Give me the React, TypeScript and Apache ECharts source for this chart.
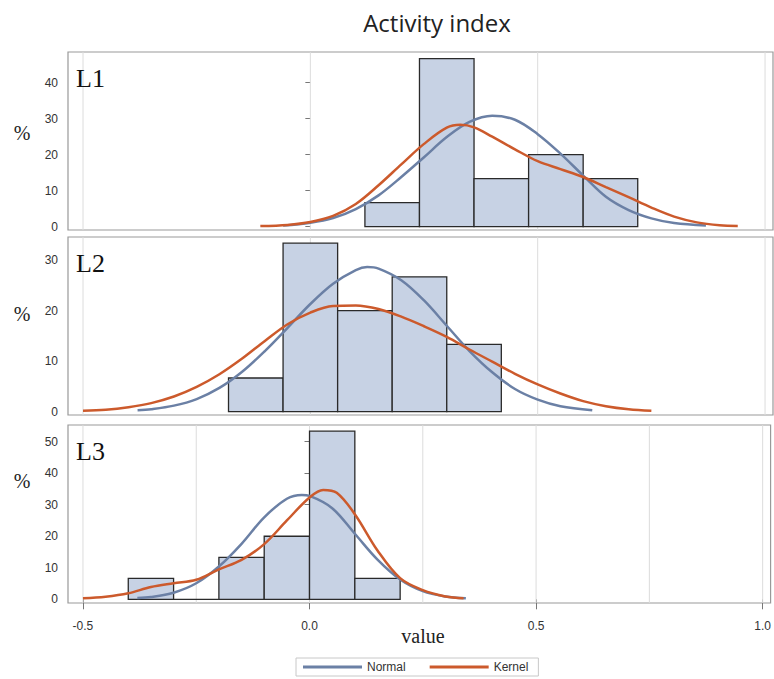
import { useEffect, useRef } from "react";
import * as echarts from "echarts";

// Histogram bins: edges on the value axis and the percentage in each bin
const l1Edges = [0.12, 0.24, 0.36, 0.48, 0.6, 0.72];
const l1Percent = [6.67, 46.67, 13.33, 20, 13.33];
const l2Edges = [-0.18, -0.06, 0.06, 0.18, 0.3, 0.42];
const l2Percent = [6.67, 33.33, 20, 26.67, 13.33];
const l3Edges = [-0.4, -0.3, -0.2, -0.1, 0, 0.1, 0.2];
const l3Percent = [6.67, 0, 13.33, 20, 53.33, 6.67];

// Fitted density curves, [value, percent]
const l1Normal = [
  [-0.06, 0.3], [0, 1.1], [0.05, 2.4], [0.1, 4.9], [0.15, 8.7], [0.2, 13.8],
  [0.25, 19.3], [0.3, 24.9], [0.35, 29.1], [0.4, 30.8], [0.45, 29.7], [0.5, 25.7],
  [0.55, 20.3], [0.6, 14.2], [0.65, 8.3], [0.7, 4.6], [0.75, 2.3], [0.8, 1.0], [0.87, 0.3],
];
const l1Kernel = [
  [-0.11, 0.2], [-0.05, 0.5], [0, 1.3], [0.05, 3.0], [0.1, 6.3], [0.15, 11.5],
  [0.2, 17.3], [0.25, 23.0], [0.3, 27.5], [0.33, 28.3], [0.36, 27.6], [0.4, 25.0],
  [0.45, 21.5], [0.5, 18.2], [0.55, 16.0], [0.6, 13.8], [0.65, 11.0], [0.7, 8.2],
  [0.75, 5.3], [0.8, 2.8], [0.85, 1.2], [0.9, 0.4], [0.94, 0.2],
];
const l2Normal = [
  [-0.38, 0.3], [-0.35, 0.5], [-0.3, 1.2], [-0.25, 2.5], [-0.2, 4.7], [-0.15, 7.9],
  [-0.1, 12.0], [-0.05, 16.6], [0, 21.3], [0.05, 25.3], [0.1, 28.0], [0.125, 28.6],
  [0.15, 28.3], [0.2, 26.0], [0.25, 22.0], [0.3, 17.0], [0.35, 12.0], [0.4, 7.8],
  [0.45, 4.5], [0.5, 2.4], [0.55, 1.1], [0.62, 0.3],
];
const l2Kernel = [
  [-0.5, 0.2], [-0.45, 0.4], [-0.4, 0.9], [-0.35, 1.7], [-0.3, 3.0], [-0.25, 4.9],
  [-0.2, 7.4], [-0.15, 10.5], [-0.1, 14.0], [-0.05, 17.3], [0, 19.6], [0.05, 20.9],
  [0.1, 21.0], [0.15, 20.3], [0.2, 18.8], [0.25, 16.9], [0.3, 14.8], [0.35, 12.3],
  [0.4, 9.9], [0.45, 7.5], [0.5, 5.4], [0.55, 3.6], [0.6, 2.1], [0.65, 1.1],
  [0.7, 0.5], [0.75, 0.2],
];
const l3Normal = [
  [-0.38, 0.4], [-0.35, 0.7], [-0.3, 2.1], [-0.25, 5.1], [-0.2, 10.4], [-0.15, 17.6],
  [-0.1, 26.0], [-0.05, 31.9], [-0.017, 33.1], [0, 32.8], [0.05, 28.9], [0.1, 20.8],
  [0.15, 12.6], [0.2, 6.3], [0.25, 2.6], [0.3, 0.9], [0.345, 0.3],
];
const l3Kernel = [
  [-0.5, 0.3], [-0.45, 0.8], [-0.4, 1.9], [-0.35, 3.9], [-0.3, 5.1], [-0.25, 6.2],
  [-0.2, 9.5], [-0.15, 12.5], [-0.1, 17.5], [-0.05, 25.0], [0, 32.3], [0.03, 34.7],
  [0.06, 33.8], [0.1, 27.0], [0.15, 15.5], [0.2, 6.7], [0.25, 2.9], [0.3, 0.9], [0.34, 0.3],
];

// Axis ticks and reference lines
const xTickValues = [-0.5, 0, 0.5, 1.0];
const l1YTicks = [0, 10, 20, 30, 40];
const l2YTicks = [0, 10, 20, 30];
const l3YTicks = [0, 10, 20, 30, 40, 50];
const coarseGridValues = [-0.5, 0, 0.5, 1.0];
const fineGridValues = [-0.5, -0.25, 0, 0.25, 0.5, 0.75, 1.0];

const panelLabels = ["L1", "L2", "L3"];
const legendNames = ["Normal", "Kernel"];

const NORMAL_COLOR = "#6b80a5";
const KERNEL_COLOR = "#cc5a2c";
const BAR_FILL = "#c7d2e4";

const PLOT_LEFT = 68;
const PLOT_WIDTH = 705;
const X_MIN = -0.533;
const X_MAX = 1.0175;

const panels = [
  { top: 52, height: 178, yMin: -0.92, yMax: 48.53, edges: l1Edges, pct: l1Percent, normal: l1Normal, kernel: l1Kernel, yTicks: l1YTicks, grid: coarseGridValues, pctY: 133 },
  { top: 237, height: 178, yMin: -0.65, yMax: 34.55, edges: l2Edges, pct: l2Percent, normal: l2Normal, kernel: l2Kernel, yTicks: l2YTicks, grid: coarseGridValues, pctY: 314 },
  { top: 425, height: 178, yMin: -1.17, yMax: 55.28, edges: l3Edges, pct: l3Percent, normal: l3Normal, kernel: l3Kernel, yTicks: l3YTicks, grid: fineGridValues, pctY: 481 },
];

export default function App() {
  const ref = useRef<HTMLDivElement>(null);

  useEffect(() => {
    if (!ref.current) return;
    const chart = echarts.init(ref.current, null, { renderer: "svg" });

    const grids = panels.map((p) => ({
      left: PLOT_LEFT,
      width: PLOT_WIDTH,
      top: p.top,
      height: p.height,
      show: true,
      backgroundColor: "#ffffff",
      borderColor: "#999999",
      borderWidth: 1.2,
    }));

    const xAxes = panels.map((p, i) => ({
      type: "value",
      gridIndex: i,
      min: X_MIN,
      max: X_MAX,
      axisLine: { show: false },
      splitLine: { show: false },
      axisTick: {
        show: i === 2,
        customValues: xTickValues,
        length: 10,
        lineStyle: { color: "#777" },
      },
      axisLabel: {
        show: i === 2,
        customValues: xTickValues,
        formatter: (v: number) => v.toFixed(1),
        margin: 17,
        fontSize: 12,
        color: "#333",
        fontFamily: "Liberation Sans",
      },
    }));

    const yAxes = panels.map((p, i) => ({
      type: "value",
      gridIndex: i,
      min: p.yMin,
      max: p.yMax,
      axisLine: { show: false },
      splitLine: { show: false },
      axisTick: {
        show: true,
        customValues: p.yTicks,
        length: 5,
        lineStyle: { color: "#777" },
      },
      axisLabel: {
        customValues: p.yTicks,
        margin: 10,
        fontSize: 12,
        color: "#333",
        fontFamily: "Liberation Sans",
      },
    }));

    const series: any[] = [];
    panels.forEach((p, i) => {
      series.push({
        type: "custom",
        name: "grid" + i,
        xAxisIndex: i,
        yAxisIndex: i,
        z: 1,
        silent: true,
        data: p.grid.map((v) => [v, 0]),
        encode: { x: 0, y: 1 },
        renderItem: (params: any, api: any) => {
          const cs = params.coordSys;
          const pt = api.coord([api.value(0), 0]);
          return {
            type: "line",
            shape: { x1: pt[0], y1: cs.y, x2: pt[0], y2: cs.y + cs.height },
            style: { stroke: "#dcdcdc", lineWidth: 1 },
          };
        },
      });
      series.push({
        type: "custom",
        name: "hist" + i,
        xAxisIndex: i,
        yAxisIndex: i,
        z: 2,
        silent: true,
        data: p.pct.map((v, k) => [p.edges[k], p.edges[k + 1], v]),
        encode: { x: [0, 1], y: 2 },
        renderItem: (params: any, api: any) => {
          const lo = api.coord([api.value(0), 0]);
          const hi = api.coord([api.value(1), api.value(2)]);
          return {
            type: "rect",
            shape: { x: lo[0], y: hi[1], width: hi[0] - lo[0], height: lo[1] - hi[1] },
            style: { fill: BAR_FILL, stroke: "#2a2a2a", lineWidth: 1.3 },
          };
        },
      });
      series.push({
        type: "line",
        name: legendNames[0],
        xAxisIndex: i,
        yAxisIndex: i,
        z: 3,
        data: p.normal,
        smooth: 0.35,
        showSymbol: false,
        symbol: "none",
        color: NORMAL_COLOR,
        lineStyle: { color: NORMAL_COLOR, width: 2.5 },
      });
      series.push({
        type: "line",
        name: legendNames[1],
        xAxisIndex: i,
        yAxisIndex: i,
        z: 4,
        data: p.kernel,
        smooth: 0.35,
        showSymbol: false,
        symbol: "none",
        color: KERNEL_COLOR,
        lineStyle: { color: KERNEL_COLOR, width: 2.5 },
      });
    });

    const texts: any[] = [
      {
        type: "text",
        x: 437,
        y: 22,
        style: {
          text: "Activity index",
          fontFamily: "Open Sans",
          fontSize: 24,
          fill: "#222",
          align: "center",
          verticalAlign: "middle",
        },
      },
      {
        type: "text",
        x: 423,
        y: 636,
        style: {
          text: "value",
          fontFamily: "Liberation Serif",
          fontSize: 20,
          fill: "#222",
          align: "center",
          verticalAlign: "middle",
        },
      },
    ];
    panels.forEach((p, i) => {
      texts.push({
        type: "text",
        x: 22,
        y: p.pctY,
        style: {
          text: "%",
          fontFamily: "Liberation Serif",
          fontSize: 20,
          fill: "#222",
          align: "center",
          verticalAlign: "middle",
        },
      });
      texts.push({
        type: "text",
        x: 76,
        y: p.top + 26,
        z: 10,
        style: {
          text: panelLabels[i],
          fontFamily: "Liberation Serif",
          fontSize: 26,
          fill: "#111",
          align: "left",
          verticalAlign: "middle",
        },
      });
    });

    chart.setOption({
      animation: false,
      backgroundColor: "#ffffff",
      grid: grids,
      xAxis: xAxes,
      yAxis: yAxes,
      series,
      legend: {
        data: legendNames,
        left: 296,
        top: 658,
        icon: "rect",
        itemWidth: 59,
        itemHeight: 3,
        itemGap: 24,
        padding: [3, 10, 3, 7],
        borderColor: "#c8c8c8",
        borderWidth: 1,
        selectedMode: false,
        textStyle: { fontSize: 12, color: "#333", fontFamily: "Liberation Sans" },
      },
      graphic: texts,
    });

    return () => chart.dispose();
  }, []);

  return (
    <div
      ref={ref}
      style={{ position: "fixed", left: 0, top: 0, width: 774, height: 679 }}
    />
  );
}
